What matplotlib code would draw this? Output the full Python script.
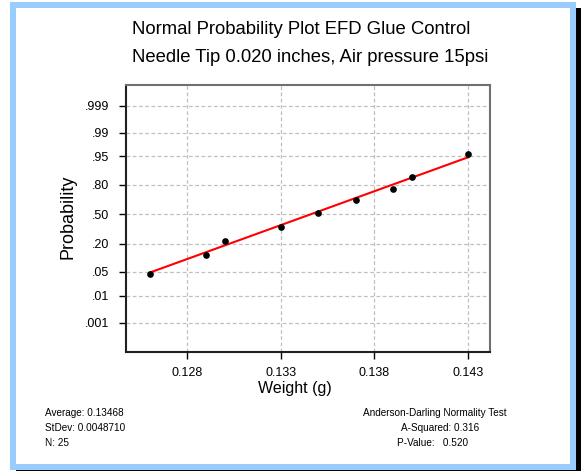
import matplotlib
matplotlib.use('Agg')
import matplotlib.pyplot as plt
from matplotlib.patches import Rectangle
from statistics import NormalDist

plt.rcParams['font.family'] = ['Liberation Sans', 'DejaVu Sans']

# data
weights = [0.126, 0.129, 0.130, 0.133, 0.135, 0.137, 0.139, 0.140, 0.143]
probs = [0.044, 0.124, 0.223, 0.355, 0.517, 0.657, 0.761, 0.855, 0.956]
fit_x = [0.126, 0.143]
fit_p = [0.048, 0.9475]
x_ticks = [0.128, 0.133, 0.138, 0.143]
p_ticks = [0.001, 0.01, 0.05, 0.20, 0.50, 0.80, 0.95, 0.99, 0.999]
p_labels = ['.001', '.01', '.05', '.20', '.50', '.80', '.95', '.99', '.999']

nd = NormalDist()
z = lambda ps: [nd.inv_cdf(p) for p in ps]

W, H = 582, 471
fig = plt.figure(figsize=(W / 100, H / 100), dpi=100)

# frame round the figure (blue border + black shadow)
def rect(x0, y0, x1, y1, color):
    fig.patches.append(Rectangle((x0 / W, 1 - y1 / H), (x1 - x0) / W, (y1 - y0) / H,
                                 transform=fig.transFigure, color=color, zorder=-5, lw=0))

rect(16, 8, 581, 471, 'black')
rect(10, 2, 576, 470, '#99ccff')
rect(16, 8, 570, 464, 'white')

ax = fig.add_axes([126 / W, 1 - 352 / H, (490 - 126) / W, (352 - 85) / H])
ax.set_zorder(2)
ax.set_facecolor('none')

ax.plot(fit_x, z(fit_p), color='red', lw=1.5, zorder=3)
ax.plot(weights, z(probs), 'o', color='black', ms=3.8, zorder=4)

ax.set_xlim(0.12474, 0.14417)
ax.set_ylim(-3.925, 3.68)
ax.set_xticks(x_ticks)
ax.set_xticklabels(['%.3f' % v for v in x_ticks])
ax.set_yticks(z(p_ticks))
ax.set_yticklabels(p_labels)
ax.tick_params(axis='both', direction='out', length=5, width=1, labelsize=9)
ax.tick_params(axis='x', pad=6)
ax.tick_params(axis='y', pad=7)
ax.grid(True, ls=(0, (3, 2)), color='#c0c0c0', lw=0.9)

for s in ['left', 'bottom']:
    ax.spines[s].set_color('#202020')
    ax.spines[s].set_linewidth(1.5)
for s in ['top', 'right']:
    ax.spines[s].set_color('#707070')
    ax.spines[s].set_linewidth(1.5)

fig.text(132 / W, 1 - 29 / H, 'Normal Probability Plot EFD Glue Control', fontsize=13.3, va='center', ha='left')
fig.text(132 / W, 1 - 58 / H, 'Needle Tip 0.020 inches, Air pressure 15psi', fontsize=13.3, va='center', ha='left')
fig.text(295 / W, 1 - 389 / H, 'Weight (g)', fontsize=11.5, ha='center', va='center')
fig.text(68 / W, 1 - 217 / H, 'Probability', fontsize=13, rotation=90, ha='center', va='center')

fig.text(45 / W, 1 - 413 / H, 'Average: 0.13468', fontsize=7.2, va='center')
fig.text(45 / W, 1 - 428 / H, 'StDev: 0.0048710', fontsize=7.2, va='center')
fig.text(45 / W, 1 - 443 / H, 'N: 25', fontsize=7.2, va='center')
fig.text(363 / W, 1 - 413 / H, 'Anderson-Darling Normality Test', fontsize=7.2, va='center')
fig.text(401 / W, 1 - 428 / H, 'A-Squared: 0.316', fontsize=7.2, va='center')
fig.text(397 / W, 1 - 443 / H, 'P-Value:   0.520', fontsize=7.2, va='center')

fig.savefig('out.png', dpi=100)
